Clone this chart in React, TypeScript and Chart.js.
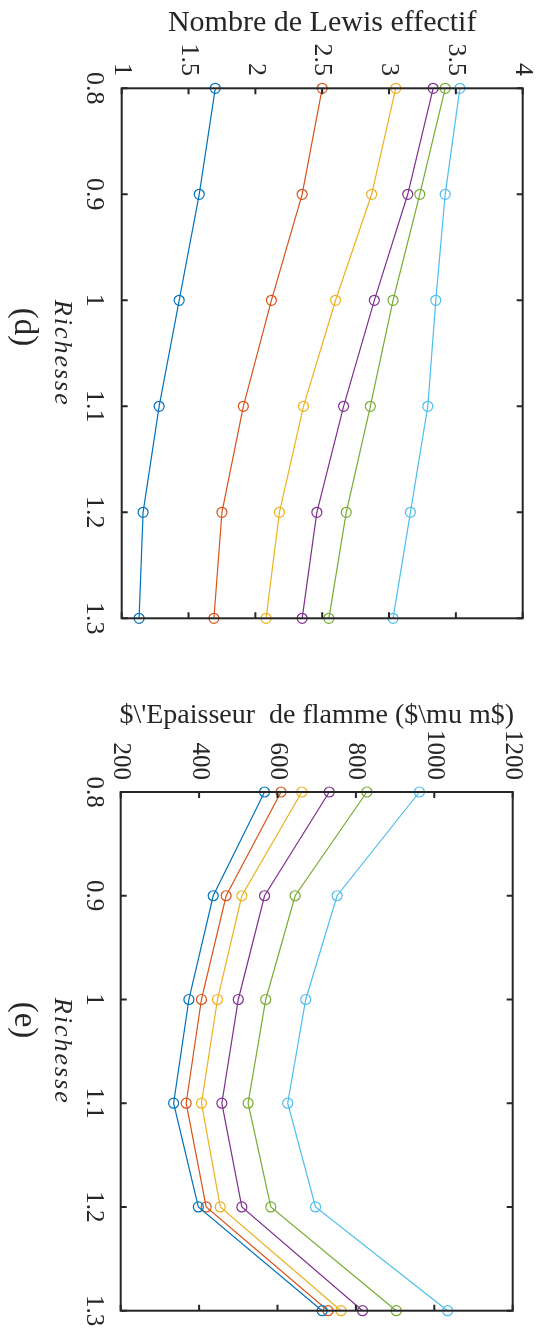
import React, { useEffect, useRef } from "react";
import { Chart, registerables } from "chart.js";

Chart.register(...registerables);

const RICHESSE = [0.8, 0.9, 1.0, 1.1, 1.2, 1.3];
const RICHESSE_TICK_LABELS = ["0.8", "0.9", "1", "1.1", "1.2", "1.3"];

const LEWIS_TICKS = [1, 1.5, 2, 2.5, 3, 3.5, 4];
const LEWIS_TICK_LABELS = ["1", "1.5", "2", "2.5", "3", "3.5", "4"];
const EPAISSEUR_TICKS = [200, 400, 600, 800, 1000, 1200];
const EPAISSEUR_TICK_LABELS = ["200", "400", "600", "800", "1000", "1200"];

const LEWIS_1 = [1.7, 1.58, 1.43, 1.28, 1.16, 1.13];
const LEWIS_2 = [2.5, 2.35, 2.12, 1.91, 1.75, 1.69];
const LEWIS_3 = [3.05, 2.87, 2.6, 2.36, 2.18, 2.08];
const LEWIS_4 = [3.33, 3.14, 2.89, 2.66, 2.46, 2.35];
const LEWIS_5 = [3.42, 3.23, 3.03, 2.86, 2.68, 2.55];
const LEWIS_6 = [3.53, 3.42, 3.35, 3.29, 3.16, 3.03];

const EPAISSEUR_1 = [567, 436, 374, 335, 398, 714];
const EPAISSEUR_2 = [609, 469, 406, 367, 418, 729];
const EPAISSEUR_3 = [662, 509, 447, 406, 454, 762];
const EPAISSEUR_4 = [732, 567, 500, 458, 509, 817];
const EPAISSEUR_5 = [828, 645, 570, 525, 583, 903];
const EPAISSEUR_6 = [962, 752, 672, 626, 697, 1034];

const COLORS = ["#0072BD", "#D95319", "#EDB120", "#7E2F8E", "#77AC30", "#4DBEEE"];

const SERIF = '"Liberation Serif", "DejaVu Serif", serif';
const INK = "#262626";

type PanelProps = {
  top: number;
  series: number[][];
  ticks: number[];
  tickLabels: string[];
  min: number;
  max: number;
  padding: { left: number; right: number; top: number; bottom: number };
  title: string;
  titleSize: number;
  titleY: number;
  tickSize: number;
  tickEndY: number;
  letter: string;
  letterY: number;
};

const W = 536;
const H = 664;

function Panel(p: PanelProps) {
  const ref = useRef<HTMLCanvasElement | null>(null);
  useEffect(() => {
    if (!ref.current) return;
    const decor = {
      id: "decor",
      afterDraw(chart: any) {
        const { ctx, chartArea: a } = chart;
        const xs = chart.scales.x;
        const ys = chart.scales.y;
        const TL = 6;
        ctx.save();
        ctx.strokeStyle = INK;
        ctx.lineWidth = 2;
        ctx.strokeRect(a.left, a.top, a.right - a.left, a.bottom - a.top);
        ctx.beginPath();
        p.ticks.forEach((v) => {
          const px = xs.getPixelForValue(v);
          ctx.moveTo(px, a.top);
          ctx.lineTo(px, a.top + TL);
          ctx.moveTo(px, a.bottom);
          ctx.lineTo(px, a.bottom - TL);
        });
        RICHESSE.forEach((r) => {
          const py = ys.getPixelForValue(r);
          ctx.moveTo(a.left, py);
          ctx.lineTo(a.left + TL, py);
          ctx.moveTo(a.right, py);
          ctx.lineTo(a.right - TL, py);
        });
        ctx.stroke();

        ctx.fillStyle = INK;
        ctx.font = `${p.tickSize}px ${SERIF}`;
        p.ticks.forEach((v, i) => {
          const px = xs.getPixelForValue(v);
          ctx.save();
          ctx.translate(px, p.tickEndY);
          ctx.rotate(Math.PI / 2);
          ctx.textAlign = "right";
          ctx.textBaseline = "middle";
          ctx.fillText(p.tickLabels[i], 0, 0);
          ctx.restore();
        });
        RICHESSE.forEach((r, i) => {
          const py = ys.getPixelForValue(r);
          ctx.save();
          ctx.translate(87, py);
          ctx.rotate(Math.PI / 2);
          ctx.textAlign = "center";
          ctx.textBaseline = "alphabetic";
          ctx.fillText(RICHESSE_TICK_LABELS[i], 0, 0);
          ctx.restore();
        });

        const midY = (a.top + a.bottom) / 2;
        ctx.save();
        ctx.font = `italic 26px ${SERIF}`;
        try {
          (ctx as any).letterSpacing = "2px";
        } catch (e) {}
        ctx.translate(55, midY);
        ctx.rotate(Math.PI / 2);
        ctx.textAlign = "center";
        ctx.textBaseline = "alphabetic";
        ctx.fillText("Richesse", 0, 0);
        ctx.restore();

        ctx.save();
        ctx.font = `33px ${SERIF}`;
        ctx.translate(24, p.letterY);
        ctx.rotate(Math.PI / 2);
        ctx.textAlign = "center";
        ctx.textBaseline = "middle";
        ctx.fillText(p.letter, 0, 0);
        ctx.restore();

        ctx.font = `${p.titleSize}px ${SERIF}`;
        ctx.textAlign = "center";
        ctx.textBaseline = "alphabetic";
        ctx.fillText(p.title, (a.left + a.right) / 2, p.titleY);
        ctx.restore();
      },
    };

    const chart = new Chart(ref.current, {
      type: "scatter",
      data: {
        datasets: p.series.map((vals, k) => ({
          label: "s" + (k + 1),
          data: RICHESSE.map((r, i) => ({ x: vals[i], y: r })),
          showLine: true,
          borderColor: COLORS[k],
          backgroundColor: "rgba(0,0,0,0)",
          pointBackgroundColor: "rgba(0,0,0,0)",
          pointBorderColor: COLORS[k],
          pointRadius: 5,
          pointBorderWidth: 1.2,
          borderWidth: 1.2,
          tension: 0,
          clip: false as any,
        })),
      },
      options: {
        responsive: false,
        animation: false,
        devicePixelRatio: 1,
        layout: { padding: p.padding },
        scales: {
          x: { type: "linear", min: p.min, max: p.max, display: false },
          y: { type: "linear", min: 0.8, max: 1.3, reverse: true, display: false },
        },
        plugins: { legend: { display: false }, tooltip: { enabled: false } },
      },
      plugins: [decor],
    });
    return () => chart.destroy();
  }, []);
  return (
    <canvas
      ref={ref}
      width={W}
      height={H}
      style={{ position: "absolute", left: 0, top: p.top, width: W, height: H, display: "block" }}
    />
  );
}

export default function App() {
  return (
    <div style={{ position: "absolute", left: 0, top: 0, width: W, height: 1328, background: "#fff" }}>
      <Panel
        top={0}
        series={[LEWIS_1, LEWIS_2, LEWIS_3, LEWIS_4, LEWIS_5, LEWIS_6]}
        ticks={LEWIS_TICKS}
        tickLabels={LEWIS_TICK_LABELS}
        min={1}
        max={4}
        padding={{ left: 121.7, right: W - 522.7, top: 88.3, bottom: H - 618.3 }}
        title="Nombre de Lewis effectif"
        titleSize={30}
        titleY={30.7}
        tickSize={26}
        tickEndY={76}
        letter="(d)"
        letterY={327}
      />
      <Panel
        top={664}
        series={[EPAISSEUR_1, EPAISSEUR_2, EPAISSEUR_3, EPAISSEUR_4, EPAISSEUR_5, EPAISSEUR_6]}
        ticks={EPAISSEUR_TICKS}
        tickLabels={EPAISSEUR_TICK_LABELS}
        min={200}
        max={1200}
        padding={{ left: 120.7, right: W - 512.7, top: 128, bottom: H - 646.7 }}
        title={"$\\'Epaisseur  de flamme ($\\mu m$)"}
        titleSize={28}
        titleY={58.7}
        tickSize={25}
        tickEndY={116}
        letter="(e)"
        letterY={356}
      />
    </div>
  );
}
